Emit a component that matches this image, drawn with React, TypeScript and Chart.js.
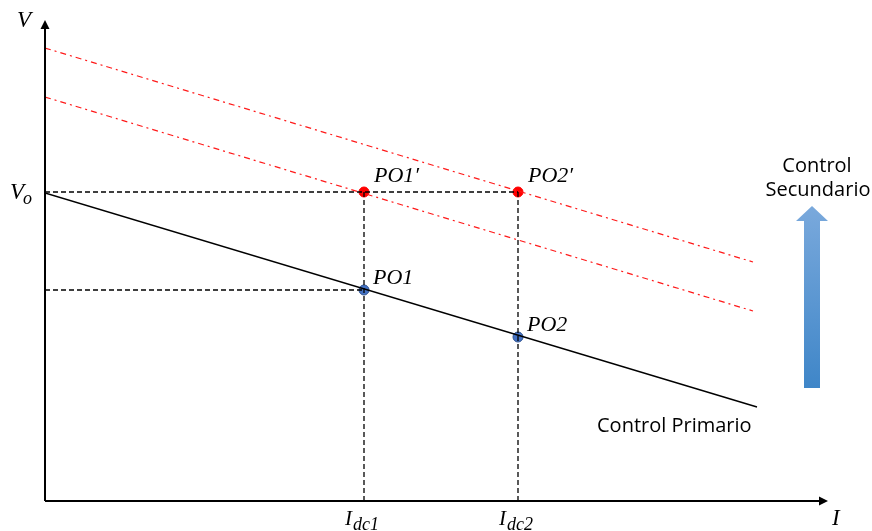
import { useEffect, useRef } from "react";
import { Chart, registerables } from "chart.js";

Chart.register(...registerables);

// ---- data (units of current I and voltage V) ----
const X_MAX = 785;
const Y_MAX = 481;
const I_DC = [319, 473];
const I_DC_LABELS = ["dc1", "dc2"];
const V_O = 309;
const PRIMARY_LINE = [
  { x: 0, y: 308 },
  { x: 712, y: 94 },
];
const SECONDARY_LOW = [
  { x: 0, y: 404 },
  { x: 708, y: 190 },
];
const SECONDARY_HIGH = [
  { x: 0, y: 453 },
  { x: 708, y: 239 },
];
const PO_PRIMARY = [
  { x: 319, y: 211 },
  { x: 473, y: 164 },
];
const PO_SECONDARY = [
  { x: 319, y: 309 },
  { x: 473, y: 309 },
];
const PO_PRIMARY_LABELS = ["PO1", "PO2"];
const PO_SECONDARY_LABELS = ["PO1\u2032", "PO2\u2032"];

const MATH_FONT = "'Liberation Serif', 'DejaVu Serif', serif";
const SANS_FONT = "'Open Sans', 'Liberation Sans', sans-serif";

const decorPlugin = {
  id: "decor",
  afterDatasetsDraw(chart: any) {
    const { ctx, scales } = chart;
    const xs = scales.x;
    const ys = scales.y;
    const px = (v: number) => xs.getPixelForValue(v);
    const py = (v: number) => ys.getPixelForValue(v);
    const x0 = px(0);
    const y0 = py(0);
    ctx.save();
    // axes
    ctx.strokeStyle = "#000";
    ctx.fillStyle = "#000";
    ctx.lineWidth = 2;
    ctx.beginPath();
    ctx.moveTo(x0, y0);
    ctx.lineTo(x0, py(Y_MAX) + 6);
    ctx.moveTo(x0, y0);
    ctx.lineTo(px(X_MAX) - 8, y0);
    ctx.stroke();
    // arrowheads
    ctx.beginPath();
    ctx.moveTo(x0, py(Y_MAX));
    ctx.lineTo(x0 - 4.5, py(Y_MAX) + 9);
    ctx.lineTo(x0 + 4.5, py(Y_MAX) + 9);
    ctx.closePath();
    ctx.fill();
    ctx.beginPath();
    ctx.moveTo(px(X_MAX) - 2, y0);
    ctx.lineTo(px(X_MAX) - 11, y0 - 4.5);
    ctx.lineTo(px(X_MAX) - 11, y0 + 4.5);
    ctx.closePath();
    ctx.fill();

    // axis labels
    ctx.textBaseline = "alphabetic";
    ctx.textAlign = "left";
    ctx.font = `italic 23px ${MATH_FONT}`;
    ctx.fillText("V", 17, 27);
    ctx.fillText("I", 832, 525);
    // V_o
    ctx.font = `italic 23px ${MATH_FONT}`;
    ctx.fillText("V", 10, py(V_O) + 7);
    ctx.font = `italic 18px ${MATH_FONT}`;
    ctx.fillText("o", 23, py(V_O) + 12);
    // I_dc labels
    I_DC.forEach((v, i) => {
      const cx = px(v);
      ctx.font = `italic 21px ${MATH_FONT}`;
      ctx.fillText("I", cx - 19, 525);
      const w = ctx.measureText("I").width;
      ctx.font = `italic 18px ${MATH_FONT}`;
      ctx.fillText(I_DC_LABELS[i], cx - 19 + w + 1, 530);
    });
    // point labels
    ctx.font = `italic 22px ${MATH_FONT}`;
    PO_PRIMARY.forEach((p, i) => {
      ctx.fillText(PO_PRIMARY_LABELS[i], px(p.x) + 9, py(p.y) - 6);
    });
    PO_SECONDARY.forEach((p, i) => {
      ctx.fillText(PO_SECONDARY_LABELS[i], px(p.x) + 10, py(p.y) - 10);
    });

    // sans labels
    ctx.font = `20px ${SANS_FONT}`;
    ctx.fillText("Control Primario", 597, 432);
    ctx.textAlign = "center";
    ctx.fillText("Control", 817, 172);
    ctx.fillText("Secundario", 818, 196);

    // secondary control arrow
    const grad = ctx.createLinearGradient(0, 206, 0, 388);
    grad.addColorStop(0, "#7aa9dc");
    grad.addColorStop(1, "#3f86c8");
    ctx.fillStyle = grad;
    ctx.beginPath();
    ctx.moveTo(812, 206);
    ctx.lineTo(828, 221);
    ctx.lineTo(820, 221);
    ctx.lineTo(820, 388);
    ctx.lineTo(804, 388);
    ctx.lineTo(804, 221);
    ctx.lineTo(796, 221);
    ctx.closePath();
    ctx.fill();
    ctx.restore();
  },
};

export default function App() {
  const ref = useRef<HTMLCanvasElement | null>(null);
  useEffect(() => {
    if (!ref.current) return;
    const dashed = { borderColor: "#000", borderWidth: 1.3, borderDash: [5, 3], pointRadius: 0, showLine: true };
    const chart = new Chart(ref.current, {
      type: "scatter",
      data: {
        datasets: [
          { data: [{ x: 0, y: V_O }, { x: I_DC[1], y: V_O }], ...dashed },
          { data: [{ x: 0, y: PO_PRIMARY[0].y }, { x: I_DC[0], y: PO_PRIMARY[0].y }], ...dashed },
          { data: [{ x: I_DC[0], y: V_O }, { x: I_DC[0], y: 0 }], ...dashed },
          { data: [{ x: I_DC[1], y: V_O }, { x: I_DC[1], y: 0 }], ...dashed },
          {
            data: SECONDARY_HIGH,
            borderColor: "#ff1a1a",
            borderWidth: 1.2,
            borderDash: [6, 4, 2, 4],
            pointRadius: 0,
            showLine: true,
          },
          {
            data: SECONDARY_LOW,
            borderColor: "#ff1a1a",
            borderWidth: 1.2,
            borderDash: [6, 4, 2, 4],
            pointRadius: 0,
            showLine: true,
          },
          { data: PRIMARY_LINE, borderColor: "#000", borderWidth: 1.4, pointRadius: 0, showLine: true },
          {
            data: PO_PRIMARY,
            pointRadius: 5,
            pointBackgroundColor: "#4472c4",
            pointBorderColor: "#2f528f",
            pointBorderWidth: 1,
            showLine: false,
          },
          {
            data: PO_SECONDARY,
            pointRadius: 5,
            pointBackgroundColor: "#ff0000",
            pointBorderColor: "#ff0000",
            pointBorderWidth: 1,
            showLine: false,
          },
        ],
      },
      options: {
        responsive: false,
        animation: false,
        events: [],
        layout: { padding: { left: 45, right: 42, top: 20, bottom: 30 } },
        plugins: { legend: { display: false }, tooltip: { enabled: false } },
        scales: {
          x: { type: "linear", min: 0, max: X_MAX, display: false },
          y: { type: "linear", min: 0, max: Y_MAX, display: false },
        },
      },
      plugins: [decorPlugin],
    });
    return () => chart.destroy();
  }, []);
  return (
    <div style={{ position: "fixed", left: 0, top: 0, width: 872, height: 531, background: "#fff" }}>
      <canvas ref={ref} width={872} height={531} />
    </div>
  );
}
